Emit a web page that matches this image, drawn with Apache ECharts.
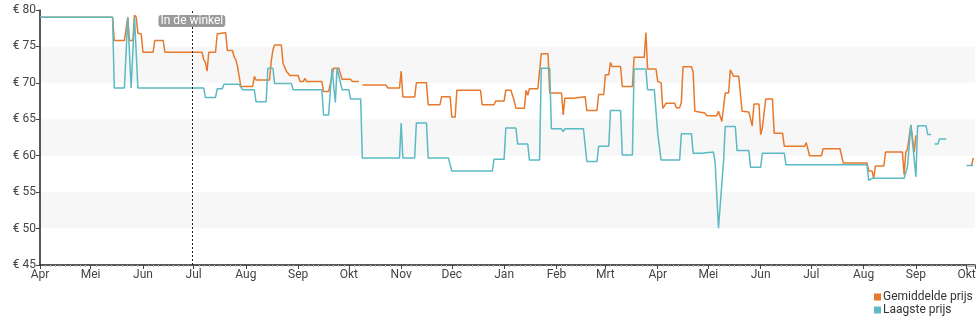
<!DOCTYPE html>
<html>
<head>
<meta charset="utf-8">
<script src="https://cdn.jsdelivr.net/npm/echarts@6/dist/echarts.min.js"></script>
<style>
  html, body { margin: 0; padding: 0; background: #fff; }
  #chart { width: 980px; height: 325px; }
</style>
</head>
<body>
<div id="chart"></div>
<script>
// Price history: average price and lowest price per day (euro)
const seriesNames = ['Gemiddelde prijs', 'Laagste prijs'];
const monthNames = ['Jan', 'Feb', 'Mrt', 'Apr', 'Mei', 'Jun', 'Jul', 'Aug', 'Sep', 'Okt', 'Nov', 'Dec'];
const yTicks = [45, 50, 55, 60, 65, 70, 75, 80];
const rangeStart = '2023-04-01';
const rangeEnd = '2024-10-06';
const storeDate = '2023-06-30';
const storeLabel = 'In de winkel';

const averagePrice = [
  ['2023-04-01', 79.0], ['2023-05-14', 79.0], ['2023-05-15', 75.8], ['2023-05-21', 75.8],
  ['2023-05-23', 79.0], ['2023-05-24', 75.8], ['2023-05-26', 75.8], ['2023-05-27', 79.3],
  ['2023-05-28', 79.0], ['2023-05-29', 76.8], ['2023-05-31', 76.7], ['2023-06-01', 74.2],
  ['2023-06-07', 74.2], ['2023-06-08', 75.8], ['2023-06-13', 75.8], ['2023-06-14', 74.2],
  ['2023-07-06', 74.2], ['2023-07-07', 73.2], ['2023-07-08', 72.8], ['2023-07-09', 71.6],
  ['2023-07-10', 74.2], ['2023-07-14', 74.2], ['2023-07-15', 76.7], ['2023-07-16', 76.9],
  ['2023-07-20', 76.9], ['2023-07-21', 74.45], ['2023-07-24', 74.45], ['2023-07-25', 73.6],
  ['2023-07-26', 73.2], ['2023-07-27', 72.3], ['2023-07-29', 69.5], ['2023-08-05', 69.5],
  ['2023-08-06', 70.9], ['2023-08-07', 70.4], ['2023-08-15', 70.4], ['2023-08-16', 72.9],
  ['2023-08-17', 74.5], ['2023-08-18', 75.2], ['2023-08-22', 75.2], ['2023-08-23', 72.7],
  ['2023-08-25', 71.6], ['2023-08-27', 71.0], ['2023-09-01', 71.0], ['2023-09-02', 70.2],
  ['2023-09-04', 70.2], ['2023-09-05', 70.6], ['2023-09-06', 70.2], ['2023-09-15', 70.2],
  ['2023-09-16', 68.8], ['2023-09-19', 68.8], ['2023-09-21', 70.9], ['2023-09-22', 72.0],
  ['2023-09-25', 72.0], ['2023-09-27', 70.5], ['2023-10-02', 70.5], ['2023-10-03', 70.2],
  ['2023-10-07', 70.2], ['2023-10-08', null], ['2023-10-09', 69.7], ['2023-10-23', 69.7],
  ['2023-10-24', 69.3], ['2023-10-31', 69.3], ['2023-11-01', 71.6], ['2023-11-02', 68.05],
  ['2023-11-09', 68.05], ['2023-11-10', 70.0], ['2023-11-16', 70.0], ['2023-11-17', 67.0],
  ['2023-11-24', 67.0], ['2023-11-25', 68.1], ['2023-11-30', 68.1], ['2023-12-01', 65.3],
  ['2023-12-03', 65.3], ['2023-12-04', 69.0], ['2023-12-18', 69.0], ['2023-12-19', 67.0],
  ['2023-12-26', 67.0], ['2023-12-27', 67.5], ['2024-01-01', 67.5], ['2024-01-02', 69.0],
  ['2024-01-05', 69.0], ['2024-01-07', 67.5], ['2024-01-08', 66.5], ['2024-01-13', 66.5],
  ['2024-01-14', 69.0], ['2024-01-15', 68.3], ['2024-01-16', 69.2], ['2024-01-21', 69.2],
  ['2024-01-23', 74.0], ['2024-01-27', 74.0], ['2024-01-28', 68.6], ['2024-02-04', 68.6],
  ['2024-02-05', 65.6], ['2024-02-06', 67.9], ['2024-02-11', 67.9], ['2024-02-12', 68.1],
  ['2024-02-18', 68.1], ['2024-02-19', 66.2], ['2024-02-25', 66.2], ['2024-02-26', 68.4],
  ['2024-02-29', 68.4], ['2024-03-01', 71.1], ['2024-03-03', 71.1], ['2024-03-04', 72.8],
  ['2024-03-05', 72.25], ['2024-03-10', 72.25], ['2024-03-11', 69.5], ['2024-03-17', 69.5],
  ['2024-03-18', 73.5], ['2024-03-24', 73.5], ['2024-03-25', 76.9], ['2024-03-26', 71.9],
  ['2024-03-31', 71.9], ['2024-04-01', 70.2], ['2024-04-03', 70.0], ['2024-04-04', 66.5],
  ['2024-04-05', 66.5], ['2024-04-06', 67.2], ['2024-04-11', 67.2], ['2024-04-12', 66.6],
  ['2024-04-14', 66.6], ['2024-04-15', 67.3], ['2024-04-16', 72.2], ['2024-04-21', 72.2],
  ['2024-04-22', 71.5], ['2024-04-23', 66.1], ['2024-04-24', 65.85], ['2024-04-29', 65.85],
  ['2024-04-30', 65.5], ['2024-05-06', 65.5], ['2024-05-07', 66.1], ['2024-05-09', 64.7],
  ['2024-05-11', 68.6], ['2024-05-13', 68.6], ['2024-05-14', 71.8], ['2024-05-16', 70.9],
  ['2024-05-19', 70.9], ['2024-05-21', 66.1], ['2024-05-25', 66.0], ['2024-05-26', 65.9],
  ['2024-05-27', 64.1], ['2024-05-28', 67.1], ['2024-05-31', 67.1], ['2024-06-01', 62.9],
  ['2024-06-02', 63.8], ['2024-06-03', 63.8], ['2024-06-04', 67.8], ['2024-06-08', 67.8],
  ['2024-06-09', 63.1], ['2024-06-14', 63.1], ['2024-06-15', 61.3], ['2024-06-27', 61.3],
  ['2024-06-28', 61.8], ['2024-06-30', 60.0], ['2024-07-07', 60.0], ['2024-07-08', 60.95],
  ['2024-07-18', 60.95], ['2024-07-20', 59.0], ['2024-08-03', 59.0], ['2024-08-04', 57.9],
  ['2024-08-06', 57.9], ['2024-08-07', 56.9], ['2024-08-08', 58.6], ['2024-08-13', 58.6],
  ['2024-08-14', 60.5], ['2024-08-24', 60.5], ['2024-08-25', 57.4], ['2024-08-26', 60.5],
  ['2024-08-27', 60.9], ['2024-08-29', 64.2], ['2024-08-30', 64.2], ['2024-08-31', 60.5],
  ['2024-09-01', 62.8], ['2024-09-02', null], ['2024-10-03', null], ['2024-10-04', 58.7],
  ['2024-10-05', 59.7]
];

const lowestPrice = [
  ['2023-04-01', 79.0], ['2023-05-14', 79.0], ['2023-05-15', 69.3], ['2023-05-21', 69.3],
  ['2023-05-23', 79.0], ['2023-05-25', 69.3], ['2023-05-26', 69.3], ['2023-05-27', 79.0],
  ['2023-05-28', 79.0], ['2023-05-29', 69.3], ['2023-07-07', 69.3], ['2023-07-08', 68.0],
  ['2023-07-14', 68.0], ['2023-07-15', 69.2], ['2023-07-18', 69.2], ['2023-07-19', 69.8],
  ['2023-07-28', 69.8], ['2023-07-30', 69.05], ['2023-08-06', 69.05], ['2023-08-07', 67.4],
  ['2023-08-13', 67.4], ['2023-08-14', 72.0], ['2023-08-17', 72.0], ['2023-08-18', 69.9],
  ['2023-08-28', 69.9], ['2023-08-29', 69.05], ['2023-09-15', 69.05], ['2023-09-16', 65.6],
  ['2023-09-19', 65.6], ['2023-09-21', 72.0], ['2023-09-22', 72.0], ['2023-09-23', 67.3],
  ['2023-09-24', 72.0], ['2023-09-25', 72.0], ['2023-09-27', 69.05], ['2023-10-01', 69.05],
  ['2023-10-02', 67.8], ['2023-10-08', 67.8], ['2023-10-09', 59.7], ['2023-10-31', 59.7],
  ['2023-11-01', 64.5], ['2023-11-02', 59.7], ['2023-11-09', 59.7], ['2023-11-10', 64.5],
  ['2023-11-16', 64.5], ['2023-11-17', 59.7], ['2023-11-29', 59.7], ['2023-12-01', 57.9],
  ['2023-12-25', 57.9], ['2023-12-26', 59.5], ['2024-01-01', 59.5], ['2024-01-02', 63.8],
  ['2024-01-08', 63.8], ['2024-01-09', 61.6], ['2024-01-15', 61.6], ['2024-01-16', 59.4],
  ['2024-01-22', 59.4], ['2024-01-23', 72.0], ['2024-01-28', 72.0], ['2024-01-29', 63.7],
  ['2024-02-04', 63.7], ['2024-02-05', 63.3], ['2024-02-06', 63.7], ['2024-02-17', 63.7],
  ['2024-02-19', 59.2], ['2024-02-25', 59.2], ['2024-02-26', 61.3], ['2024-03-03', 61.3],
  ['2024-03-04', 66.2], ['2024-03-10', 66.2], ['2024-03-11', 60.1], ['2024-03-17', 60.1],
  ['2024-03-18', 71.9], ['2024-03-25', 71.9], ['2024-03-26', 69.05], ['2024-03-30', 69.05],
  ['2024-04-01', 63.1], ['2024-04-02', 63.1], ['2024-04-03', 59.4], ['2024-04-14', 59.4],
  ['2024-04-15', 63.0], ['2024-04-21', 63.0], ['2024-04-22', 60.35], ['2024-04-27', 60.35],
  ['2024-04-28', 60.5], ['2024-05-04', 60.5], ['2024-05-05', 59.2], ['2024-05-07', 50.05],
  ['2024-05-08', 50.05], ['2024-05-10', 59.2], ['2024-05-11', 64.0], ['2024-05-17', 64.0],
  ['2024-05-18', 60.7], ['2024-05-25', 60.7], ['2024-05-26', 58.4], ['2024-06-01', 58.4],
  ['2024-06-02', 60.35], ['2024-06-15', 60.35], ['2024-06-16', 58.75], ['2024-08-03', 58.75],
  ['2024-08-04', 56.6], ['2024-08-05', 56.6], ['2024-08-06', 56.9], ['2024-08-25', 56.9],
  ['2024-08-27', 58.5], ['2024-08-29', 64.25], ['2024-08-30', 64.25], ['2024-09-01', 57.1],
  ['2024-09-02', 64.1], ['2024-09-07', 64.1], ['2024-09-08', 62.9], ['2024-09-10', 62.9],
  ['2024-09-11', null], ['2024-09-12', 61.6], ['2024-09-14', 61.6], ['2024-09-15', 62.3],
  ['2024-09-19', 62.3], ['2024-09-20', null], ['2024-10-01', 58.65], ['2024-10-05', 58.65]
];

const colors = ['#e8792b', '#5bbac4'];
const fontFamily = 'Roboto, "Noto Sans", sans-serif';

const chart = echarts.init(document.getElementById('chart'), null, { renderer: 'canvas' });

chart.setOption({
  animation: false,
  color: colors,
  textStyle: { fontFamily: fontFamily },
  grid: { left: 40, right: 5, top: 10, bottom: 60, containLabel: false },
  legend: {
    data: seriesNames.map(function (n) { return { name: n, icon: 'rect' }; }),
    orient: 'vertical',
    left: 874,
    top: 291,
    padding: 0,
    itemWidth: 7,
    itemHeight: 7,
    itemGap: 1,
    textStyle: { fontSize: 12, color: '#333', padding: [0, 0, 0, -3] }
  },
  xAxis: {
    type: 'time',
    min: rangeStart,
    max: rangeEnd,
    splitNumber: 18,
    minInterval: 28 * 86400000,
    axisLine: { show: true, lineStyle: { color: '#222', width: 1.5 } },
    axisTick: { show: true, length: 4, lineStyle: { color: '#444' } },
    minorTick: { show: true, splitNumber: 10, length: 2, lineStyle: { color: '#bbb' } },
    splitLine: { show: false },
    axisLabel: {
      color: '#444',
      fontSize: 12,
      margin: 4,
      formatter: function (value) {
        return monthNames[new Date(value).getMonth()];
      }
    }
  },
  yAxis: {
    type: 'value',
    min: yTicks[0],
    max: yTicks[yTicks.length - 1],
    interval: 5,
    axisLine: { show: true, lineStyle: { color: '#222', width: 1.5 } },
    axisTick: { show: true, length: 4, lineStyle: { color: '#444' } },
    splitLine: { show: false },
    splitArea: { show: true, areaStyle: { color: ['#ffffff', '#f7f7f7'] } },
    axisLabel: {
      color: '#444',
      fontSize: 12,
      margin: 4,
      formatter: '€ {value}'
    }
  },
  series: [
    {
      name: seriesNames[0],
      type: 'line',
      data: averagePrice,
      showSymbol: false,
      connectNulls: false,
      lineStyle: { width: 1.5, color: colors[0] },
      markLine: {
        silent: true,
        symbol: 'none',
        lineStyle: { type: [2, 2], color: '#222', width: 1 },
        label: {
          show: true,
          position: 'end',
          formatter: storeLabel,
          color: '#fff',
          fontSize: 12,
          backgroundColor: '#9a9a9a',
          borderRadius: 3,
          padding: [0, 2, 0, 2],
          offset: [0, 22]
        },
        data: [{ xAxis: storeDate }]
      }
    },
    {
      name: seriesNames[1],
      type: 'line',
      data: lowestPrice,
      showSymbol: false,
      connectNulls: false,
      lineStyle: { width: 1.5, color: colors[1] }
    }
  ]
});
</script>
</body>
</html>
